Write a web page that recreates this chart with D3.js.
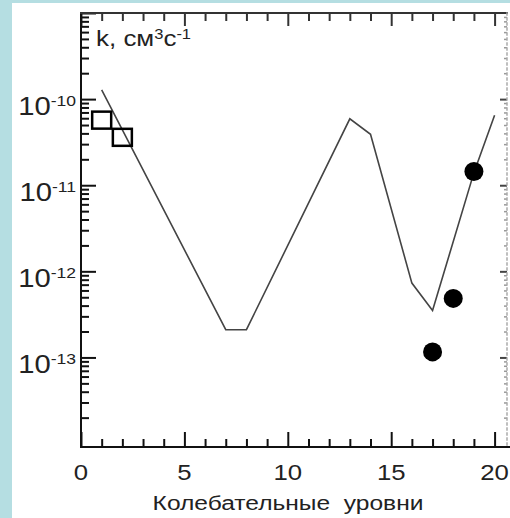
<!DOCTYPE html>
<html>
<head>
<meta charset="utf-8">
<script src="https://cdn.jsdelivr.net/npm/d3@7"></script>
<style>
  body { margin: 0; background: #ffffff; }
  svg { display: block; }
  text { font-family: "Liberation Sans", Arial, sans-serif; fill: #222; }
</style>
</head>
<body>
<svg id="chart"></svg>
<script>
// rate constant vs vibrational level
var lineLevels = [1, 7, 8, 13, 14, 16, 17, 19, 20];
var lineK = [1.28e-10, 2.1e-13, 2.1e-13, 5.9e-11, 3.9e-11, 7.3e-13, 3.5e-13, 1.4e-11, 6.5e-11];

var squareLevels = [1, 2];
var squareK = [5.7e-11, 3.6e-11];

var circleLevels = [17, 18, 19];
var circleK = [1.16e-13, 4.85e-13, 1.44e-11];

var xMajor = [0, 5, 10, 15, 20];
var xMinor = d3.range(1, 21).filter(function(v) { return v % 5 != 0; });
var yMajor = [1e-13, 1e-12, 1e-11, 1e-10];
var yMajorExp = ["-13", "-12", "-11", "-10"];

var xTitle = "Колебательные\u00a0 уровни";

var screen = {width: 510, height: 518};
var plot = {left: 81, right: 507, top: 13, bottom: 447};
var stretch = 1.17;

var svg = d3.select("#chart")
    .attr("width", screen.width)
    .attr("height", screen.height);

// light blue border of the scanned figure
svg.append("rect")
    .attr("width", screen.width).attr("height", screen.height)
    .attr("fill", "#b5dee2");
svg.append("rect")
    .attr("x", 12).attr("y", 3)
    .attr("width", screen.width - 12).attr("height", screen.height - 3)
    .attr("fill", "#ffffff");

var xScale = d3.scaleLinear()
    .domain([0, 20.6])
    .range([plot.left, plot.right]);

var yScale = d3.scaleLog()
    .domain([Math.pow(10, -14.04), 1e-9])
    .range([plot.bottom, plot.top]);

var yMinor = yScale.ticks().filter(function(v) {
    var e = Math.log10(v);
    return Math.abs(e - Math.round(e)) > 1e-6;
});

// ---- axes (ticks pointing inward) ----
var drawAxis = function(axis, tx, ty, stroke, width)
{
    var g = svg.append("g")
        .attr("transform", "translate(" + tx + "," + ty + ")")
        .call(axis);
    g.select(".domain").remove();
    g.selectAll("line")
        .attr("stroke", stroke)
        .attr("stroke-width", width);
    return g;
}

drawAxis(d3.axisBottom(xScale).tickValues(xMajor).tickSize(-15).tickFormat(""), 0, plot.bottom, "#111", 2);
drawAxis(d3.axisBottom(xScale).tickValues(xMinor).tickSize(-8).tickFormat(""), 0, plot.bottom, "#111", 2);
drawAxis(d3.axisTop(xScale).tickValues(xMajor).tickSize(-13).tickFormat(""), 0, plot.top, "#333", 2);
drawAxis(d3.axisTop(xScale).tickValues(xMinor).tickSize(-8).tickFormat(""), 0, plot.top, "#333", 2);
drawAxis(d3.axisLeft(yScale).tickValues(yMajor.concat([1e-9])).tickSize(-15).tickFormat(""), plot.left, 0, "#111", 2);
drawAxis(d3.axisLeft(yScale).tickValues(yMinor).tickSize(-8).tickFormat(""), plot.left, 0, "#111", 2);
drawAxis(d3.axisRight(yScale).tickValues(yMajor).tickSize(-7).tickFormat(""), plot.right, 0, "#444", 2);
drawAxis(d3.axisRight(yScale).tickValues(yMinor).tickSize(-3).tickFormat(""), plot.right, 0, "#999", 1.5);

// frame lines
var frame = svg.append("g").attr("stroke-linecap", "square");
frame.append("line")
    .attr("x1", plot.left).attr("x2", plot.left)
    .attr("y1", plot.top).attr("y2", plot.bottom)
    .attr("stroke", "#111").attr("stroke-width", 2);
frame.append("line")
    .attr("x1", plot.left).attr("x2", screen.width)
    .attr("y1", plot.bottom).attr("y2", plot.bottom)
    .attr("stroke", "#111").attr("stroke-width", 2);
frame.append("line")
    .attr("x1", plot.left).attr("x2", plot.right)
    .attr("y1", plot.top).attr("y2", plot.top)
    .attr("stroke", "#333").attr("stroke-width", 2);
frame.append("line")
    .attr("x1", plot.right).attr("x2", plot.right)
    .attr("y1", plot.top).attr("y2", plot.bottom)
    .attr("stroke", "#aaa").attr("stroke-width", 1.5)
    .attr("stroke-dasharray", "2,3");

// ---- tick labels ----
svg.append("g").selectAll("text")
    .data(xMajor)
    .enter()
    .append("text")
    .attr("transform", function(v) {
        return "translate(" + xScale(v) + "," + (plot.bottom + 33) + ") scale(" + stretch + ",1)";
    })
    .attr("text-anchor", "middle")
    .style("font-size", "22px")
    .text(function(v) { return v; });

var yLabels = svg.append("g").selectAll("text")
    .data(yMajor)
    .enter()
    .append("text")
    .attr("transform", function(v) {
        return "translate(76," + (yScale(v) + 16) + ") scale(" + stretch + ",1)";
    })
    .attr("text-anchor", "end")
    .style("font-size", "25px");
yLabels.append("tspan").text("10");
yLabels.append("tspan")
    .attr("dy", -9)
    .style("font-size", "15px")
    .text(function(v, i) { return yMajorExp[i]; });

// axis title
svg.append("text")
    .attr("transform", "translate(288,510) scale(" + stretch + ",1)")
    .attr("text-anchor", "middle")
    .style("font-size", "21px")
    .text(xTitle);

// y label inside the plot
var kLabel = svg.append("text")
    .attr("transform", "translate(96,46) scale(1.18,1)")
    .style("font-size", "22px");
kLabel.append("tspan").text("k, см");
kLabel.append("tspan").attr("dy", -7).style("font-size", "14px").text("3");
kLabel.append("tspan").attr("dy", 7).text("с");
kLabel.append("tspan").attr("dy", -7).style("font-size", "14px").text("-1");

// ---- data ----
var lineData = lineLevels.map(function(v, i) { return {level: v, k: lineK[i]}; });
var squareData = squareLevels.map(function(v, i) { return {level: v, k: squareK[i]}; });
var circleData = circleLevels.map(function(v, i) { return {level: v, k: circleK[i]}; });

var line = d3.line()
    .x(function(d) { return xScale(d.level); })
    .y(function(d) { return yScale(d.k); });

svg.append("path")
    .datum(lineData)
    .attr("d", line)
    .attr("fill", "none")
    .attr("stroke", "#444")
    .attr("stroke-width", 1.6);

svg.append("g").selectAll("rect")
    .data(squareData)
    .enter()
    .append("rect")
    .attr("x", function(d) { return xScale(d.level) - 9.5; })
    .attr("y", function(d) { return yScale(d.k) - 8.5; })
    .attr("width", 19)
    .attr("height", 17)
    .attr("fill", "none")
    .attr("stroke", "#000")
    .attr("stroke-width", 2.5);

svg.append("g").selectAll("circle")
    .data(circleData)
    .enter()
    .append("circle")
    .attr("cx", function(d) { return xScale(d.level); })
    .attr("cy", function(d) { return yScale(d.k); })
    .attr("r", 9.5)
    .attr("fill", "#000");
</script>
</body>
</html>
